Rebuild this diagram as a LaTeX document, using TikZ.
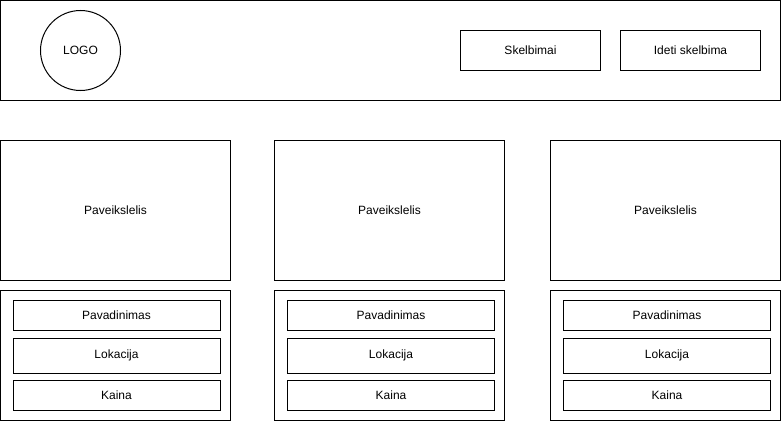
\documentclass[tikz,border=0pt]{standalone}
\usepackage{fontspec}
\setmainfont{Liberation Sans}
\usetikzlibrary{positioning}

\begin{document}
\begin{tikzpicture}[
    x=0.75pt, y=-0.75pt,
    font=\fontsize{9pt}{11pt}\selectfont,
    every node/.style={line width=0.75pt, inner sep=0pt, outer sep=0pt},
    frame/.style={draw, minimum width=585pt, minimum height=75pt},
    logobox/.style={draw, circle, minimum size=60pt},
    navbtn/.style={draw, align=center, minimum width=105pt, minimum height=30pt},
    picbox/.style={draw, align=center, minimum width=172.5pt, minimum height=105pt},
    infobox/.style={draw, minimum width=172.5pt, minimum height=97.5pt},
    field/.style={draw, align=center, minimum width=155.25pt, minimum height=22.5pt},
    tallfield/.style={field, minimum height=26.25pt}
]
  \useasboundingbox (0,0) rectangle (781,421);

  % header
  \node[frame] (header) at (390.5,50.5) {};
  \node[logobox] (logo) at (80.5,50.5) {LOGO};
  \node[navbtn] (nav1) at (530.5,50.5) {Skelbimai};
  \node[navbtn, right=15pt of nav1] (nav2) {Ideti skelbima};

  % cards
  \node[picbox] (img1) at (115.5,210.5) {Paveikslelis};
  \node[infobox, below=7.5pt of img1] (info1) {};
  \node[field] (name1) at (116.5,315.5) {Pavadinimas};
  \node[tallfield, below=5.625pt of name1] (loc1) {Lokacija};
  \node[field, below=5.625pt of loc1] (price1) {Kaina};

  \node[picbox] (img2) at (389.5,210.5) {Paveikslelis};
  \node[infobox, below=7.5pt of img2] (info2) {};
  \node[field] (name2) at (391,315.5) {Pavadinimas};
  \node[tallfield, below=5.625pt of name2] (loc2) {Lokacija};
  \node[field, below=5.625pt of loc2] (price2) {Kaina};

  \node[picbox] (img3) at (665.5,210.5) {Paveikslelis};
  \node[infobox, below=7.5pt of img3] (info3) {};
  \node[field] (name3) at (667,315.5) {Pavadinimas};
  \node[tallfield, below=5.625pt of name3] (loc3) {Lokacija};
  \node[field, below=5.625pt of loc3] (price3) {Kaina};
\end{tikzpicture}
\end{document}
